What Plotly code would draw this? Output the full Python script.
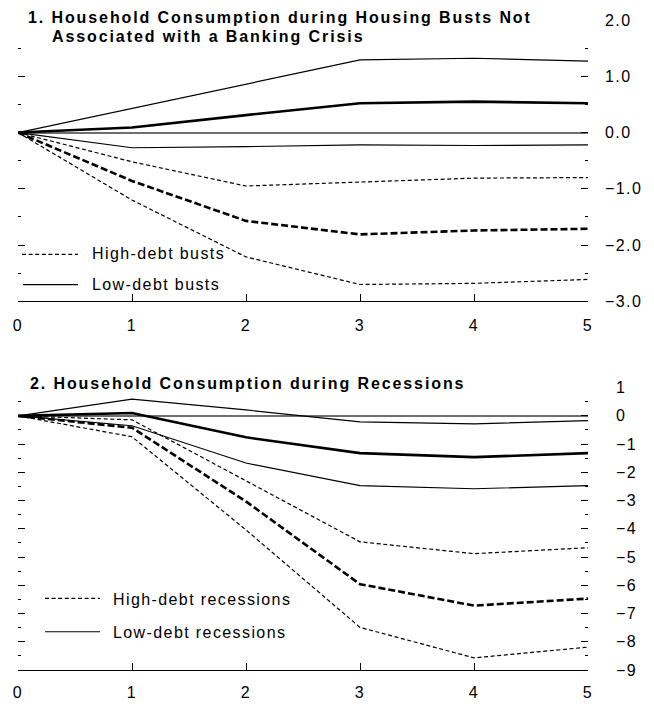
import plotly.graph_objects as go

# ---- data -------------------------------------------------------------
years = [0, 1, 2, 3, 4, 5]

# Panel 1: housing busts not associated with a banking crisis
bust_low_upper = [0.0, 0.43, 0.87, 1.29, 1.32, 1.27]
bust_low_mid = [0.0, 0.09, 0.31, 0.52, 0.55, 0.52]
bust_low_lower = [0.0, -0.27, -0.25, -0.22, -0.23, -0.22]
bust_high_upper = [0.0, -0.52, -0.95, -0.88, -0.81, -0.80]
bust_high_mid = [0.0, -0.86, -1.57, -1.81, -1.74, -1.71]
bust_high_lower = [0.0, -1.20, -2.21, -2.70, -2.68, -2.61]

# Panel 2: recessions
rec_low_upper = [0.0, 0.59, 0.21, -0.21, -0.28, -0.17]
rec_low_mid = [0.0, 0.10, -0.76, -1.32, -1.46, -1.32]
rec_low_lower = [0.0, -0.35, -1.67, -2.47, -2.58, -2.47]
rec_high_upper = [0.0, -0.14, -2.30, -4.46, -4.88, -4.67]
rec_high_mid = [0.0, -0.42, -3.03, -5.96, -6.72, -6.47]
rec_high_lower = [0.0, -0.74, -4.04, -7.49, -8.57, -8.19]

title1_line1 = "1. Household Consumption during Housing Busts Not"
title1_line2 = "Associated with a Banking Crisis"
title2 = "2. Household Consumption during Recessions"
legend1 = ["High-debt busts", "Low-debt busts"]
legend2 = ["High-debt recessions", "Low-debt recessions"]

# ---- geometry (pixels) --------------------------------------------------
W, H = 654, 713
ML, MR, MT, MB = 18, 66, 18, 32
PW, PH = W - ML - MR, H - MT - MB


def px(x):
    return (x - ML) / PW


def py(y):
    return (H - MB - y) / PH


FONT = "Liberation Sans, Arial, sans-serif"
THIN, THICK = 1.2, 2.6
THIN_DASH, THICK_DASH = "4px,2.6px", "7px,3px"

fig = go.Figure()


def add_line(xa, ya, vals, width, dash):
    fig.add_trace(go.Scatter(
        x=years, y=vals, mode="lines", xaxis=xa, yaxis=ya,
        line=dict(color="black", width=width, dash=dash),
        showlegend=False, hoverinfo="skip"))


for vals, w, d in [
    (bust_low_upper, THIN, "solid"), (bust_low_mid, THICK, "solid"),
    (bust_low_lower, THIN, "solid"), (bust_high_upper, THIN, THIN_DASH),
    (bust_high_mid, THICK, THICK_DASH), (bust_high_lower, THIN, THIN_DASH)]:
    add_line("x", "y", vals, w, d)

for vals, w, d in [
    (rec_low_upper, THIN, "solid"), (rec_low_mid, THICK, "solid"),
    (rec_low_lower, THIN, "solid"), (rec_high_upper, THIN, THIN_DASH),
    (rec_high_mid, THICK, THICK_DASH), (rec_high_lower, THIN, THIN_DASH)]:
    add_line("x2", "y2", vals, w, d)

tickfont = dict(family=FONT, size=16, color="black")

xcommon = dict(range=[0, 5], tickvals=years, ticks="inside", ticklen=7,
               tickcolor="black", showline=True, linecolor="black",
               linewidth=1, showgrid=False, zeroline=False,
               tickfont=tickfont, fixedrange=True)

ycommon = dict(side="right", ticks="inside", ticklen=7, tickcolor="black",
               mirror="ticks", showline=False, showgrid=False,
               zeroline=True, zerolinecolor="#6e6e6e", zerolinewidth=2,
               tickfont=tickfont, dtick=1,
               minor=dict(ticks="inside", ticklen=3, dtick=0.5,
                          tickcolor="black"),
               fixedrange=True)

top_lo, top_hi = py(305), py(18)
bot_lo, bot_hi = py(681), py(393)

fig.update_layout(
    width=W, height=H,
    margin=dict(l=ML, r=MR, t=MT, b=MB),
    paper_bgcolor="white", plot_bgcolor="white",
    xaxis=dict(xcommon, anchor="y", domain=[0, 1], ticklabelstandoff=9),
    yaxis=dict(ycommon, anchor="x", domain=[top_lo, top_hi],
               range=[-3, 2], tick0=-3, tickformat=".1f",
               ticklabelstandoff=16),
    xaxis2=dict(xcommon, anchor="y2", domain=[0, 1], ticklabelstandoff=8),
    yaxis2=dict(ycommon, anchor="x2", domain=[bot_lo, bot_hi],
                range=[-9, 1], tick0=-9, tickformat="d",
                ticklabelstandoff=27),
    showlegend=False,
)


def label(text, x, y, bold=False):
    fig.add_annotation(
        text=f"<b>{text}</b>" if bold else text,
        xref="paper", yref="paper", x=px(x), y=py(y),
        xanchor="left", yanchor="middle", align="left", showarrow=False,
        font=dict(family=FONT, size=16, color="black"))


def key(x0, x1, y, dash):
    fig.add_shape(type="line", xref="paper", yref="paper",
                  x0=px(x0), x1=px(x1), y0=py(y), y1=py(y),
                  line=dict(color="black", width=1.2, dash=dash))


# panel titles
label(title1_line1, 26, 15, bold=True)
label(title1_line2, 50, 35, bold=True)
label(title2, 28, 389, bold=True)

# legend keys
key(22, 78, 257, THIN_DASH)
key(23, 78, 288, "solid")
label(legend1[0], 90, 256)
label(legend1[1], 90, 288)

key(45, 100, 608, THIN_DASH)
key(45, 100, 642, "solid")
label(legend2[0], 111, 609)
label(legend2[1], 111, 643)

# widen glyph spacing a little, bold titles more than the rest
spacing_js = """
var gd = document.getElementById('{plot_id}');
function widen() {
  gd.querySelectorAll('text').forEach(function (t) {
    var bold = t.querySelector('tspan[style*="bold"]') !== null;
    t.style.letterSpacing = bold ? '1.9px' : '1.4px';
  });
}
widen();
gd.on('plotly_afterplot', widen);
"""

fig.write_html("out.html", post_script=spacing_js,
               config={"displayModeBar": False})
